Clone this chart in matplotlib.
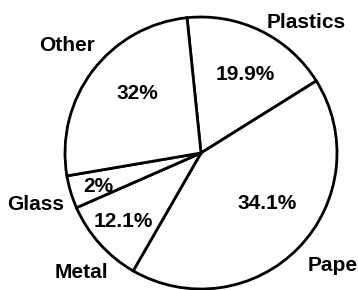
import matplotlib
matplotlib.use("Agg")
import matplotlib.pyplot as plt

# --- data ---
categories = ["Plastics", "Paper", "Metal", "Glass", "Other"]
pct_labels = ["19.9%", "34.1%", "12.1%", "2%", "32%"]
# slice sizes as drawn in the scanned figure (%)
drawn_share = [17.75, 42.2, 10.1, 3.9, 26.05]

plt.rcParams['font.family'] = ['Liberation Sans', 'DejaVu Sans']

fig = plt.figure(figsize=(3.58, 2.90), dpi=100)
ax = fig.add_axes([65 / 358, 1 / 290, 272 / 358, 272 / 290])

ax.pie(drawn_share, startangle=95.9, counterclock=False, radius=1,
       colors=['white'] * len(drawn_share),
       wedgeprops=dict(edgecolor='black', linewidth=2.0))
ax.set_xlim(-1, 1)
ax.set_ylim(-1, 1)
ax.set_aspect('equal')
ax.axis('off')

# label placement (axes data coords)
name_pos = [(0.772, 0.963, 'center'), (0.787, -0.824, 'left'),
            (-0.882, -0.882, 'center'), (-1.213, -0.382, 'center'),
            (-0.985, 0.794, 'center')]
pct_pos = [(0.324, 0.574), (0.485, -0.368), (-0.574, -0.507),
           (-0.757, -0.25), (-0.471, 0.441)]

for name, (x, y, ha) in zip(categories, name_pos):
    ax.text(x, y, name, ha=ha, va='center', fontsize=15, fontweight='bold',
            clip_on=False)
for lab, (x, y) in zip(pct_labels, pct_pos):
    ax.text(x, y, lab, ha='center', va='center', fontsize=15, fontweight='bold')

fig.savefig("out.png", dpi=100)
